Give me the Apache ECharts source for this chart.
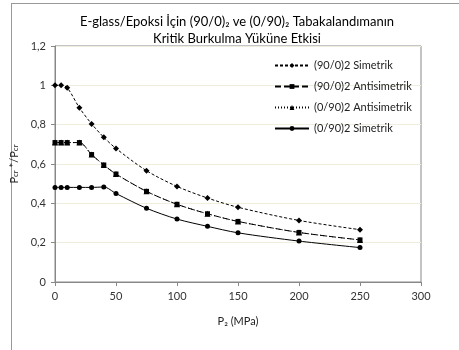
<!DOCTYPE html>
<html>
<head>
<meta charset="utf-8">
<script src="https://cdn.jsdelivr.net/npm/echarts@6/dist/echarts.min.js"></script>
<style>
  html, body {margin: 0; padding: 0; background: #fff;}
  #chart {width: 459px; height: 350px;}
</style>
</head>
<body>
<div id="chart"></div>
<script>
// P2 (MPa)
const p2 = [0, 5, 10, 20, 30, 40, 50, 75, 100, 125, 150, 200, 250];
const sim90_0 = [1, 1, 0.988, 0.886, 0.804, 0.736, 0.679, 0.566, 0.486, 0.427, 0.38, 0.313, 0.266];
const anti90_0 = [0.709, 0.709, 0.709, 0.709, 0.648, 0.595, 0.549, 0.461, 0.395, 0.347, 0.308, 0.252, 0.214];
const anti0_90 = [0.709, 0.709, 0.709, 0.709, 0.648, 0.595, 0.549, 0.461, 0.395, 0.347, 0.308, 0.252, 0.214];
const sim0_90 = [0.481, 0.481, 0.481, 0.481, 0.481, 0.483, 0.45, 0.375, 0.32, 0.283, 0.25, 0.208, 0.175];
const names = ['(90/0)2 Simetrik', '(90/0)2 Antisimetrik', '(0/90)2 Antisimetrik', '(0/90)2 Simetrik'];

const font = 'Lato, "Open Sans", sans-serif';
const pairs = (ys) => p2.map((x, i) => [x, ys[i]]);

const mk = (name, ys, symbol, size, dash) => ({
  name,
  type: 'line',
  data: pairs(ys),
  smooth: 0.3,
  symbol,
  symbolSize: size,
  itemStyle: {color: '#000'},
  lineStyle: {color: '#000', width: 1, type: dash},
  emphasis: {disabled: true},
  animation: false
});

const chart = echarts.init(document.getElementById('chart'));
chart.setOption({
  animation: false,
  textStyle: {fontFamily: font},
  title: {
    text: 'E-glass/Epoksi İçin (90/0)₂ ve (0/90)₂ Tabakalandımanın\nKritik Burkulma Yüküne Etkisi',
    left: 232,
    top: 8,
    textAlign: 'center',
    textStyle: {fontFamily: font, fontSize: 13, fontWeight: 'normal', color: '#000', lineHeight: 17}
  },
  graphic: [
    {type: 'line', shape: {x1: 11, y1: 3.5, x2: 459, y2: 3.5}, style: {stroke: '#999', lineWidth: 1}},
    {type: 'line', shape: {x1: 11.5, y1: 3, x2: 11.5, y2: 350}, style: {stroke: '#999', lineWidth: 1}}
  ],
  legend: {
    orient: 'vertical',
    left: 269,
    top: 55,
    itemWidth: 34,
    itemHeight: 6,
    itemGap: 10,
    textStyle: {fontFamily: font, fontSize: 11, color: '#222'},
    data: names
  },
  grid: {
    left: 55, right: 38, top: 46, bottom: 68,
    show: true, borderColor: '#888', borderWidth: 1,
    outerBoundsMode: 'none'
  },
  xAxis: {
    type: 'value',
    min: 0, max: 300, interval: 50,
    name: 'P₂ (MPa)',
    nameLocation: 'middle',
    nameGap: 34,
    nameTextStyle: {fontFamily: font, fontSize: 11, color: '#222'},
    axisLine: {show: true, lineStyle: {color: '#888'}},
    axisTick: {show: true, length: 4, inside: false, lineStyle: {color: '#888'}},
    axisLabel: {fontFamily: font, fontSize: 11, color: '#333', margin: 9},
    splitLine: {show: false}
  },
  yAxis: {
    type: 'value',
    min: 0, max: 1.2, interval: 0.2,
    name: '{n|P}{s|cr}{n| */P}{s|cr}',
    nameLocation: 'middle',
    nameGap: 32,
    nameRotate: 90,
    nameTextStyle: {
      fontFamily: font,
      rich: {
        n: {fontFamily: font, fontSize: 11, color: '#222', verticalAlign: 'bottom', lineHeight: 14},
        s: {fontFamily: font, fontSize: 8, color: '#222', verticalAlign: 'bottom', lineHeight: 11}
      }
    },
    axisLine: {show: true, lineStyle: {color: '#888'}},
    axisTick: {show: true, length: 4, lineStyle: {color: '#888'}},
    axisLabel: {
      fontFamily: font, fontSize: 11, color: '#333', margin: 9,
      formatter: (v) => String(Math.round(v * 10) / 10).replace('.', ',')
    },
    splitLine: {show: true, lineStyle: {color: '#efedde', width: 1}}
  },
  series: [
    mk(names[0], sim90_0, 'diamond', 6, [3, 2]),
    mk(names[1], anti90_0, 'rect', 5, [6, 3]),
    mk(names[2], anti0_90, 'triangle', 6, [1, 2]),
    mk(names[3], sim0_90, 'circle', 5, 'solid')
  ]
});
</script>
</body>
</html>
